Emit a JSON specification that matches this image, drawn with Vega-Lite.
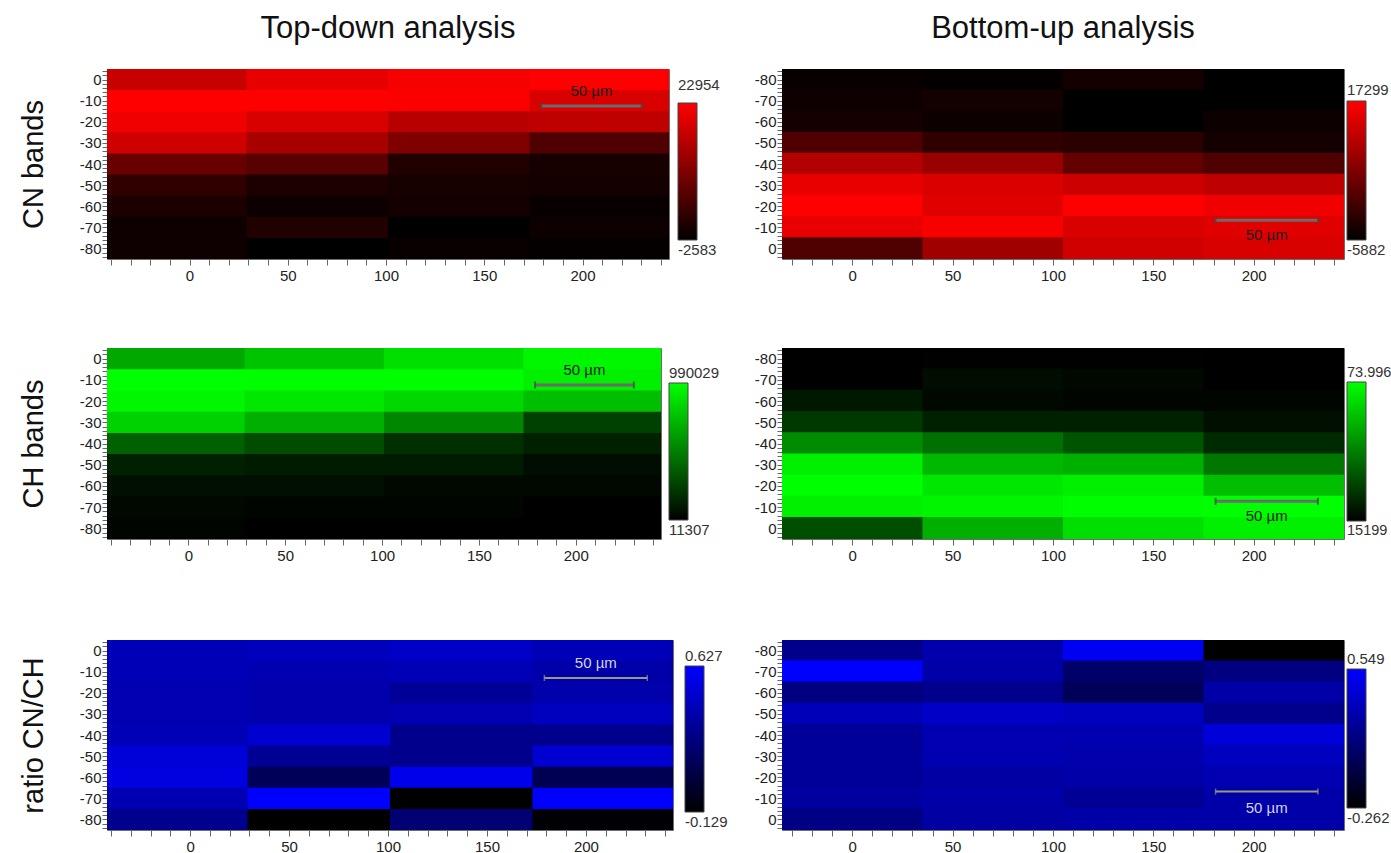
{
"$schema": "https://vega.github.io/schema/vega-lite/v6.json",
"padding": {"left": 18, "top": 12, "right": 0, "bottom": 0},
"background": "white",
"config": {"font": "Liberation Sans", "view": {"stroke": "#6e6e6e", "strokeWidth": 1},
  "axis": {"grid": false, "domain": false, "labelFontSize": 15, "labelColor": "#222", "tickColor": "#666", "labelOverlap": false, "labelBound": false, "labelFlush": false, "tickCount": 200}},
"datasets": {
"tl": [
{"x0":-42,"x1":29,"y0":5,"y1":-5,"v":17336},{"x0":29,"x1":101,"y0":5,"y1":-5,"v":20656},{"x0":101,"x1":173,"y0":5,"y1":-5,"v":22188},{"x0":173,"x1":244,"y0":5,"y1":-5,"v":22954},
{"x0":-42,"x1":29,"y0":-5,"y1":-15,"v":22954},{"x0":29,"x1":101,"y0":-5,"y1":-15,"v":22800},{"x0":101,"x1":173,"y0":-5,"y1":-15,"v":22699},{"x0":173,"x1":244,"y0":-5,"y1":-15,"v":19123},
{"x0":-42,"x1":29,"y0":-15,"y1":-25,"v":21422},{"x0":29,"x1":101,"y0":-15,"y1":-25,"v":19123},{"x0":101,"x1":173,"y0":-15,"y1":-25,"v":15804},{"x0":173,"x1":244,"y0":-15,"y1":-25,"v":16570},
{"x0":-42,"x1":29,"y0":-25,"y1":-35,"v":18357},{"x0":29,"x1":101,"y0":-25,"y1":-35,"v":14271},{"x0":101,"x1":173,"y0":-25,"y1":-35,"v":10186},{"x0":173,"x1":244,"y0":-25,"y1":-35,"v":5333},
{"x0":-42,"x1":29,"y0":-35,"y1":-45,"v":7887},{"x0":29,"x1":101,"y0":-35,"y1":-45,"v":6355},{"x0":101,"x1":173,"y0":-35,"y1":-45,"v":737},{"x0":173,"x1":244,"y0":-35,"y1":-45,"v":-285},
{"x0":-42,"x1":29,"y0":-45,"y1":-55,"v":2269},{"x0":29,"x1":101,"y0":-45,"y1":-55,"v":226},{"x0":101,"x1":173,"y0":-45,"y1":-55,"v":-285},{"x0":173,"x1":244,"y0":-45,"y1":-55,"v":-540},
{"x0":-42,"x1":29,"y0":-55,"y1":-65,"v":226},{"x0":29,"x1":101,"y0":-55,"y1":-65,"v":-1306},{"x0":101,"x1":173,"y0":-55,"y1":-65,"v":-540},{"x0":173,"x1":244,"y0":-55,"y1":-65,"v":-1817},
{"x0":-42,"x1":29,"y0":-65,"y1":-75,"v":-1051},{"x0":29,"x1":101,"y0":-65,"y1":-75,"v":737},{"x0":101,"x1":173,"y0":-65,"y1":-75,"v":-2583},{"x0":173,"x1":244,"y0":-65,"y1":-75,"v":-1306},
{"x0":-42,"x1":29,"y0":-75,"y1":-85,"v":-1051},{"x0":29,"x1":101,"y0":-75,"y1":-85,"v":-2583},{"x0":101,"x1":173,"y0":-75,"y1":-85,"v":-1817},{"x0":173,"x1":244,"y0":-75,"y1":-85,"v":-2072}
],
"tr": [
{"x0":-35,"x1":35,"y0":-75,"y1":-85,"v":-5187},{"x0":35,"x1":105,"y0":-75,"y1":-85,"v":-5418},{"x0":105,"x1":175,"y0":-75,"y1":-85,"v":-4028},{"x0":175,"x1":245,"y0":-75,"y1":-85,"v":-5882},
{"x0":-35,"x1":35,"y0":-65,"y1":-75,"v":-4491},{"x0":35,"x1":105,"y0":-65,"y1":-75,"v":-4028},{"x0":105,"x1":175,"y0":-65,"y1":-75,"v":-5882},{"x0":175,"x1":245,"y0":-65,"y1":-75,"v":-5800},
{"x0":-35,"x1":35,"y0":-55,"y1":-65,"v":-4028},{"x0":35,"x1":105,"y0":-55,"y1":-65,"v":-4723},{"x0":105,"x1":175,"y0":-55,"y1":-65,"v":-5882},{"x0":175,"x1":245,"y0":-55,"y1":-65,"v":-4723},
{"x0":-35,"x1":35,"y0":-45,"y1":-55,"v":1304},{"x0":35,"x1":105,"y0":-45,"y1":-55,"v":-1478},{"x0":105,"x1":175,"y0":-45,"y1":-55,"v":-1941},{"x0":175,"x1":245,"y0":-45,"y1":-55,"v":-4028},
{"x0":-35,"x1":35,"y0":-35,"y1":-45,"v":10345},{"x0":35,"x1":105,"y0":-35,"y1":-45,"v":8027},{"x0":105,"x1":175,"y0":-35,"y1":-45,"v":3159},{"x0":175,"x1":245,"y0":-35,"y1":-45,"v":1304},
{"x0":-35,"x1":35,"y0":-25,"y1":-35,"v":15213},{"x0":35,"x1":105,"y0":-25,"y1":-35,"v":14054},{"x0":105,"x1":175,"y0":-25,"y1":-35,"v":12663},{"x0":175,"x1":245,"y0":-25,"y1":-35,"v":11504},
{"x0":-35,"x1":35,"y0":-15,"y1":-25,"v":17299},{"x0":35,"x1":105,"y0":-15,"y1":-25,"v":14517},{"x0":105,"x1":175,"y0":-15,"y1":-25,"v":17200},{"x0":175,"x1":245,"y0":-15,"y1":-25,"v":15908},
{"x0":-35,"x1":35,"y0":-5,"y1":-15,"v":15213},{"x0":35,"x1":105,"y0":-5,"y1":-15,"v":16604},{"x0":105,"x1":175,"y0":-5,"y1":-15,"v":13822},{"x0":175,"x1":245,"y0":-5,"y1":-15,"v":14517},
{"x0":-35,"x1":35,"y0":5,"y1":-5,"v":1304},{"x0":35,"x1":105,"y0":5,"y1":-5,"v":8722},{"x0":105,"x1":175,"y0":5,"y1":-5,"v":13126},{"x0":175,"x1":245,"y0":5,"y1":-5,"v":13822}
],
"ml": [
{"x0":-42,"x1":29,"y0":5,"y1":-5,"v":657264},{"x0":29,"x1":101,"y0":5,"y1":-5,"v":764923},{"x0":101,"x1":173,"y0":5,"y1":-5,"v":872582},{"x0":173,"x1":244,"y0":5,"y1":-5,"v":960647},
{"x0":-42,"x1":29,"y0":-5,"y1":-15,"v":990029},{"x0":29,"x1":101,"y0":-5,"y1":-15,"v":985000},{"x0":101,"x1":173,"y0":-5,"y1":-15,"v":988000},{"x0":173,"x1":244,"y0":-5,"y1":-15,"v":931306},
{"x0":-42,"x1":29,"y0":-15,"y1":-25,"v":960647},{"x0":29,"x1":101,"y0":-15,"y1":-25,"v":901944},{"x0":101,"x1":173,"y0":-15,"y1":-25,"v":843221},{"x0":173,"x1":244,"y0":-15,"y1":-25,"v":745349},
{"x0":-42,"x1":29,"y0":-25,"y1":-35,"v":813859},{"x0":29,"x1":101,"y0":-25,"y1":-35,"v":686625},{"x0":101,"x1":173,"y0":-25,"y1":-35,"v":530030},{"x0":173,"x1":244,"y0":-25,"y1":-35,"v":255988},
{"x0":-42,"x1":29,"y0":-35,"y1":-45,"v":383221},{"x0":29,"x1":101,"y0":-35,"y1":-45,"v":304924},{"x0":101,"x1":173,"y0":-35,"y1":-45,"v":197264},{"x0":173,"x1":244,"y0":-35,"y1":-45,"v":138541},
{"x0":-42,"x1":29,"y0":-45,"y1":-55,"v":138541},{"x0":29,"x1":101,"y0":-45,"y1":-55,"v":118966},{"x0":101,"x1":173,"y0":-45,"y1":-55,"v":118966},{"x0":173,"x1":244,"y0":-45,"y1":-55,"v":60243},
{"x0":-42,"x1":29,"y0":-55,"y1":-65,"v":70030},{"x0":29,"x1":101,"y0":-55,"y1":-65,"v":70030},{"x0":101,"x1":173,"y0":-55,"y1":-65,"v":40669},{"x0":173,"x1":244,"y0":-55,"y1":-65,"v":40669},
{"x0":-42,"x1":29,"y0":-65,"y1":-75,"v":40669},{"x0":29,"x1":101,"y0":-65,"y1":-75,"v":30881},{"x0":101,"x1":173,"y0":-65,"y1":-75,"v":30881},{"x0":173,"x1":244,"y0":-65,"y1":-75,"v":11307},
{"x0":-42,"x1":29,"y0":-75,"y1":-85,"v":30881},{"x0":29,"x1":101,"y0":-75,"y1":-85,"v":11307},{"x0":101,"x1":173,"y0":-75,"y1":-85,"v":13000},{"x0":173,"x1":244,"y0":-75,"y1":-85,"v":11307}
],
"mr": [
{"x0":-35,"x1":35,"y0":-75,"y1":-85,"v":15199},{"x0":35,"x1":105,"y0":-75,"y1":-85,"v":15400},{"x0":105,"x1":175,"y0":-75,"y1":-85,"v":15400},{"x0":175,"x1":245,"y0":-75,"y1":-85,"v":15199},
{"x0":-35,"x1":35,"y0":-65,"y1":-75,"v":15199},{"x0":35,"x1":105,"y0":-65,"y1":-75,"v":18139},{"x0":105,"x1":175,"y0":-65,"y1":-75,"v":16963},{"x0":175,"x1":245,"y0":-65,"y1":-75,"v":15199},
{"x0":-35,"x1":35,"y0":-55,"y1":-65,"v":20491},{"x0":35,"x1":105,"y0":-55,"y1":-65,"v":16963},{"x0":105,"x1":175,"y0":-55,"y1":-65,"v":16375},{"x0":175,"x1":245,"y0":-55,"y1":-65,"v":16375},
{"x0":-35,"x1":35,"y0":-45,"y1":-55,"v":28134},{"x0":35,"x1":105,"y0":-45,"y1":-55,"v":22843},{"x0":105,"x1":175,"y0":-45,"y1":-55,"v":22843},{"x0":175,"x1":245,"y0":-45,"y1":-55,"v":18727},
{"x0":-35,"x1":35,"y0":-35,"y1":-45,"v":47537},{"x0":35,"x1":105,"y0":-35,"y1":-45,"v":41070},{"x0":105,"x1":175,"y0":-35,"y1":-45,"v":34602},{"x0":175,"x1":245,"y0":-35,"y1":-45,"v":25194},
{"x0":-35,"x1":35,"y0":-25,"y1":-35,"v":70468},{"x0":35,"x1":105,"y0":-25,"y1":-35,"v":57533},{"x0":105,"x1":175,"y0":-25,"y1":-35,"v":55769},{"x0":175,"x1":245,"y0":-25,"y1":-35,"v":42834},
{"x0":-35,"x1":35,"y0":-15,"y1":-25,"v":73996},{"x0":35,"x1":105,"y0":-15,"y1":-25,"v":68704},{"x0":105,"x1":175,"y0":-15,"y1":-25,"v":70468},{"x0":175,"x1":245,"y0":-15,"y1":-25,"v":59297},
{"x0":-35,"x1":35,"y0":-5,"y1":-15,"v":70468},{"x0":35,"x1":105,"y0":-5,"y1":-15,"v":71644},{"x0":105,"x1":175,"y0":-5,"y1":-15,"v":73800},{"x0":175,"x1":245,"y0":-5,"y1":-15,"v":73900},
{"x0":-35,"x1":35,"y0":5,"y1":-5,"v":33426},{"x0":35,"x1":105,"y0":5,"y1":-5,"v":55769},{"x0":105,"x1":175,"y0":5,"y1":-5,"v":66940},{"x0":175,"x1":245,"y0":5,"y1":-5,"v":70468}
],
"bl": [
{"x0":-42,"x1":29,"y0":5,"y1":-5,"v":0.415},{"x0":29,"x1":101,"y0":5,"y1":-5,"v":0.43},{"x0":101,"x1":173,"y0":5,"y1":-5,"v":0.461},{"x0":173,"x1":244,"y0":5,"y1":-5,"v":0.415},
{"x0":-42,"x1":29,"y0":-5,"y1":-15,"v":0.415},{"x0":29,"x1":101,"y0":-5,"y1":-15,"v":0.4},{"x0":101,"x1":173,"y0":-5,"y1":-15,"v":0.415},{"x0":173,"x1":244,"y0":-5,"y1":-15,"v":0.37},
{"x0":-42,"x1":29,"y0":-15,"y1":-25,"v":0.4},{"x0":29,"x1":101,"y0":-15,"y1":-25,"v":0.385},{"x0":101,"x1":173,"y0":-15,"y1":-25,"v":0.325},{"x0":173,"x1":244,"y0":-15,"y1":-25,"v":0.385},
{"x0":-42,"x1":29,"y0":-25,"y1":-35,"v":0.4},{"x0":29,"x1":101,"y0":-25,"y1":-35,"v":0.385},{"x0":101,"x1":173,"y0":-25,"y1":-35,"v":0.4},{"x0":173,"x1":244,"y0":-25,"y1":-35,"v":0.438},
{"x0":-42,"x1":29,"y0":-35,"y1":-45,"v":0.415},{"x0":29,"x1":101,"y0":-35,"y1":-45,"v":0.491},{"x0":101,"x1":173,"y0":-35,"y1":-45,"v":0.287},{"x0":173,"x1":244,"y0":-35,"y1":-45,"v":0.287},
{"x0":-42,"x1":29,"y0":-45,"y1":-55,"v":0.514},{"x0":29,"x1":101,"y0":-45,"y1":-55,"v":0.309},{"x0":101,"x1":173,"y0":-45,"y1":-55,"v":0.287},{"x0":173,"x1":244,"y0":-45,"y1":-55,"v":0.491},
{"x0":-42,"x1":29,"y0":-55,"y1":-65,"v":0.536},{"x0":29,"x1":101,"y0":-55,"y1":-65,"v":0.136},{"x0":101,"x1":173,"y0":-55,"y1":-65,"v":0.567},{"x0":173,"x1":244,"y0":-55,"y1":-65,"v":0.113},
{"x0":-42,"x1":29,"y0":-65,"y1":-75,"v":0.4},{"x0":29,"x1":101,"y0":-65,"y1":-75,"v":0.627},{"x0":101,"x1":173,"y0":-65,"y1":-75,"v":-0.129},{"x0":173,"x1":244,"y0":-65,"y1":-75,"v":0.627},
{"x0":-42,"x1":29,"y0":-75,"y1":-85,"v":0.287},{"x0":29,"x1":101,"y0":-75,"y1":-85,"v":-0.129},{"x0":101,"x1":173,"y0":-75,"y1":-85,"v":0.211},{"x0":173,"x1":244,"y0":-75,"y1":-85,"v":-0.114}
],
"br": [
{"x0":-35,"x1":35,"y0":-75,"y1":-85,"v":0.184},{"x0":35,"x1":105,"y0":-75,"y1":-85,"v":0.289},{"x0":105,"x1":175,"y0":-75,"y1":-85,"v":0.508},{"x0":175,"x1":245,"y0":-75,"y1":-85,"v":-0.262},
{"x0":-35,"x1":35,"y0":-65,"y1":-75,"v":0.549},{"x0":35,"x1":105,"y0":-65,"y1":-75,"v":0.273},{"x0":105,"x1":175,"y0":-65,"y1":-75,"v":0.079},{"x0":175,"x1":245,"y0":-65,"y1":-75,"v":0.144},
{"x0":-35,"x1":35,"y0":-55,"y1":-65,"v":0.144},{"x0":35,"x1":105,"y0":-55,"y1":-65,"v":0.184},{"x0":105,"x1":175,"y0":-55,"y1":-65,"v":0.022},{"x0":175,"x1":245,"y0":-55,"y1":-65,"v":0.265},
{"x0":-35,"x1":35,"y0":-45,"y1":-55,"v":0.322},{"x0":35,"x1":105,"y0":-45,"y1":-55,"v":0.371},{"x0":105,"x1":175,"y0":-45,"y1":-55,"v":0.346},{"x0":175,"x1":245,"y0":-45,"y1":-55,"v":0.184},
{"x0":-35,"x1":35,"y0":-35,"y1":-45,"v":0.225},{"x0":35,"x1":105,"y0":-35,"y1":-45,"v":0.306},{"x0":105,"x1":175,"y0":-35,"y1":-45,"v":0.306},{"x0":175,"x1":245,"y0":-35,"y1":-45,"v":0.427},
{"x0":-35,"x1":35,"y0":-25,"y1":-35,"v":0.225},{"x0":35,"x1":105,"y0":-25,"y1":-35,"v":0.306},{"x0":105,"x1":175,"y0":-25,"y1":-35,"v":0.289},{"x0":175,"x1":245,"y0":-25,"y1":-35,"v":0.346},
{"x0":-35,"x1":35,"y0":-15,"y1":-25,"v":0.225},{"x0":35,"x1":105,"y0":-15,"y1":-25,"v":0.257},{"x0":105,"x1":175,"y0":-15,"y1":-25,"v":0.273},{"x0":175,"x1":245,"y0":-15,"y1":-25,"v":0.306},
{"x0":-35,"x1":35,"y0":-5,"y1":-15,"v":0.241},{"x0":35,"x1":105,"y0":-5,"y1":-15,"v":0.273},{"x0":105,"x1":175,"y0":-5,"y1":-15,"v":0.208},{"x0":175,"x1":245,"y0":-5,"y1":-15,"v":0.273},
{"x0":-35,"x1":35,"y0":5,"y1":-5,"v":0.16},{"x0":35,"x1":105,"y0":5,"y1":-5,"v":0.257},{"x0":105,"x1":175,"y0":5,"y1":-5,"v":0.273},{"x0":175,"x1":245,"y0":5,"y1":-5,"v":0.273}
],
"bars": [
{"p":"TL","x0":179,"x1":230,"y0":-12.5,"xm":204.5,"ty":-5.5},
{"p":"TR","x0":181,"x1":232,"y0":-13.3,"xm":206.5,"ty":-6.3},
{"p":"ML","x0":179,"x1":230,"y0":-12.4,"xm":204.5,"ty":-5.2},
{"p":"MR","x0":181,"x1":232,"y0":-12.8,"xm":206.5,"ty":-5.9},
{"p":"BL","x0":179,"x1":231,"y0":-13,"xm":205,"ty":-6},
{"p":"BR","x0":181,"x1":232,"y0":-13.2,"xm":206.5,"ty":-5.5}
]
},
"resolve": {"scale": {"color": "independent"}, "legend": {"color": "independent"}},
"spacing": 70,
"vconcat": [
{"resolve": {"scale": {"color": "independent"}, "legend": {"color": "independent"}},
 "spacing": 58,
 "vconcat": [
 {"resolve": {"scale": {"color": "independent"}, "legend": {"color": "independent"}},
  "spacing": 32,
  "hconcat": [
  {"width": 562, "height": 190,
   "title": {"text": "Top-down analysis", "fontSize": 31, "fontWeight": "normal", "offset": 19, "frame": "group", "color": "#111"},
   "layer": [
    {"data": {"name": "tl"}, "mark": {"type": "rect", "clip": true, "x2Offset": 0.7, "y2Offset": 0.7},
     "encoding": {
      "x": {"field": "x0", "type": "quantitative", "title": null, "scale": {"domain": [-42, 244], "nice": false, "zero": false},
        "axis": {"values": [-40,-30,-20,-10,0,10,20,30,40,50,60,70,80,90,100,110,120,130,140,150,160,170,180,190,200,210,220,230,240], "tickCount": 200, "labelOverlap": false, "tickSize": 6, "labelPadding": 3, "labelExpr": "datum.value % 50 === 0 ? '' + datum.value : ''", "encode": {"ticks": {"update": {"y2": {"signal": "datum.value % 50 === 0 ? 6 : 3"}}}, "labels": {"update": {"fontSize": {"signal": "datum.value % 50 === 0 ? 15 : 0"}}}}}},
      "x2": {"field": "x1"},
      "y": {"field": "y0", "type": "quantitative", "title": "CN bands", "scale": {"domain": [-85, 5], "nice": false, "zero": false},
        "axis": {"values": [-84,-82,-80,-78,-76,-74,-72,-70,-68,-66,-64,-62,-60,-58,-56,-54,-52,-50,-48,-46,-44,-42,-40,-38,-36,-34,-32,-30,-28,-26,-24,-22,-20,-18,-16,-14,-12,-10,-8,-6,-4,-2,0,2,4], "tickCount": 200, "labelOverlap": false, "tickSize": 5, "labelPadding": 1, "titlePadding": 31, "titleFontSize": 29, "titleFontWeight": "normal", "titleColor": "#111", "labelExpr": "datum.value % 10 === 0 ? '' + datum.value : ''", "encode": {"ticks": {"update": {"x2": {"signal": "datum.value % 10 === 0 ? -5 : -2.5"}}}, "labels": {"update": {"fontSize": {"signal": "datum.value % 10 === 0 ? 15 : 0"}}}}}},
      "y2": {"field": "y1"},
      "color": {"field": "v", "type": "quantitative", "scale": {"domain": [-2583, 22954], "range": ["#000000", "#ff0000"], "interpolate": "rgb"},
        "legend": {"type": "gradient", "orient": "none", "direction": "vertical", "legendX": 571, "legendY": 34, "padding": 0, "title": null, "values": [-2583, 22954], "gradientLength": 137, "gradientThickness": 19, "gradientStrokeColor": "#444", "gradientStrokeWidth": 1, "labelFontSize": 15, "labelColor": "#333", "labelOffset": -19, "labelExpr": "'' + datum.value",
          "encode": {"labels": {"update": {"baseline": {"signal": "datum.perc > 0.5 ? 'alphabetic' : 'top'"}, "dy": {"signal": "datum.perc > 0.5 ? -13 : 3"}}}}}}
     }},
    {"data": {"name": "bars"}, "transform": [{"filter": "datum.p == 'TL'"}], "mark": {"type": "rule", "color": "#6b6b6b", "strokeWidth": 3},
     "encoding": {"x": {"field": "x0", "type": "quantitative", "title": null}, "x2": {"field": "x1"}, "y": {"field": "y0", "type": "quantitative", "title": "CN bands"}}},
    {"data": {"name": "bars"}, "transform": [{"filter": "datum.p == 'TL'"}, {"fold": ["x0", "x1"], "as": ["k", "xe"]}], "mark": {"type": "tick", "orient": "vertical", "color": "#444", "size": 7, "thickness": 2},
     "encoding": {"x": {"field": "xe", "type": "quantitative", "title": null}, "y": {"field": "y0", "type": "quantitative", "title": "CN bands"}}},
    {"data": {"name": "bars"}, "transform": [{"filter": "datum.p == 'TL'"}], "mark": {"type": "text", "fontSize": 15, "color": "#1a1a1a"},
     "encoding": {"x": {"field": "xm", "type": "quantitative", "title": null}, "y": {"field": "ty", "type": "quantitative", "title": "CN bands"}, "text": {"value": "50 µm"}}}
   ]},
  {"width": 562, "height": 190,
   "title": {"text": "Bottom-up analysis", "fontSize": 31, "fontWeight": "normal", "offset": 19, "frame": "group", "color": "#111"},
   "layer": [
    {"data": {"name": "tr"}, "mark": {"type": "rect", "clip": true, "x2Offset": 0.7, "y2Offset": -0.7},
     "encoding": {
      "x": {"field": "x0", "type": "quantitative", "title": null, "scale": {"domain": [-35, 245], "nice": false, "zero": false},
        "axis": {"values": [-30,-20,-10,0,10,20,30,40,50,60,70,80,90,100,110,120,130,140,150,160,170,180,190,200,210,220,230,240], "tickCount": 200, "labelOverlap": false, "tickSize": 6, "labelPadding": 3, "labelExpr": "datum.value % 50 === 0 ? '' + datum.value : ''", "encode": {"ticks": {"update": {"y2": {"signal": "datum.value % 50 === 0 ? 6 : 3"}}}, "labels": {"update": {"fontSize": {"signal": "datum.value % 50 === 0 ? 15 : 0"}}}}}},
      "x2": {"field": "x1"},
      "y": {"field": "y0", "type": "quantitative", "title": null, "scale": {"domain": [-85, 5], "nice": false, "zero": false, "reverse": true},
        "axis": {"values": [-84,-82,-80,-78,-76,-74,-72,-70,-68,-66,-64,-62,-60,-58,-56,-54,-52,-50,-48,-46,-44,-42,-40,-38,-36,-34,-32,-30,-28,-26,-24,-22,-20,-18,-16,-14,-12,-10,-8,-6,-4,-2,0,2,4], "tickCount": 200, "labelOverlap": false, "tickSize": 5, "labelPadding": 1, "labelExpr": "datum.value % 10 === 0 ? '' + datum.value : ''", "encode": {"ticks": {"update": {"x2": {"signal": "datum.value % 10 === 0 ? -5 : -2.5"}}}, "labels": {"update": {"fontSize": {"signal": "datum.value % 10 === 0 ? 15 : 0"}}}}}},
      "y2": {"field": "y1"},
      "color": {"field": "v", "type": "quantitative", "scale": {"domain": [-5882, 17299], "range": ["#000000", "#ff0000"], "interpolate": "rgb"},
        "legend": {"type": "gradient", "orient": "none", "direction": "vertical", "legendX": 565, "legendY": 32, "padding": 0, "title": null, "values": [-5882, 17299], "gradientLength": 139, "gradientThickness": 19, "gradientStrokeColor": "#444", "gradientStrokeWidth": 1, "labelFontSize": 15, "labelColor": "#333", "labelOffset": -19, "labelExpr": "'' + datum.value",
          "encode": {"labels": {"update": {"baseline": {"signal": "datum.perc > 0.5 ? 'alphabetic' : 'top'"}, "dy": {"signal": "datum.perc > 0.5 ? -6 : 3"}}}}}}
     }},
    {"data": {"name": "bars"}, "transform": [{"filter": "datum.p == 'TR'"}], "mark": {"type": "rule", "color": "#6b6b6b", "strokeWidth": 3},
     "encoding": {"x": {"field": "x0", "type": "quantitative", "title": null}, "x2": {"field": "x1"}, "y": {"field": "y0", "type": "quantitative", "title": null}}},
    {"data": {"name": "bars"}, "transform": [{"filter": "datum.p == 'TR'"}, {"fold": ["x0", "x1"], "as": ["k", "xe"]}], "mark": {"type": "tick", "orient": "vertical", "color": "#444", "size": 7, "thickness": 2},
     "encoding": {"x": {"field": "xe", "type": "quantitative", "title": null}, "y": {"field": "y0", "type": "quantitative", "title": null}}},
    {"data": {"name": "bars"}, "transform": [{"filter": "datum.p == 'TR'"}], "mark": {"type": "text", "fontSize": 15, "color": "#1a1a1a"},
     "encoding": {"x": {"field": "xm", "type": "quantitative", "title": null}, "y": {"field": "ty", "type": "quantitative", "title": null}, "text": {"value": "50 µm"}}}
   ]}
  ]},
 {"resolve": {"scale": {"color": "independent"}, "legend": {"color": "independent"}},
  "spacing": 32,
  "hconcat": [
  {"width": 554, "height": 191,
   "layer": [
    {"data": {"name": "ml"}, "mark": {"type": "rect", "clip": true, "x2Offset": 0.7, "y2Offset": 0.7},
     "encoding": {
      "x": {"field": "x0", "type": "quantitative", "title": null, "scale": {"domain": [-42, 244], "nice": false, "zero": false},
        "axis": {"values": [-40,-30,-20,-10,0,10,20,30,40,50,60,70,80,90,100,110,120,130,140,150,160,170,180,190,200,210,220,230,240], "tickCount": 200, "labelOverlap": false, "tickSize": 6, "labelPadding": 3, "labelExpr": "datum.value % 50 === 0 ? '' + datum.value : ''", "encode": {"ticks": {"update": {"y2": {"signal": "datum.value % 50 === 0 ? 6 : 3"}}}, "labels": {"update": {"fontSize": {"signal": "datum.value % 50 === 0 ? 15 : 0"}}}}}},
      "x2": {"field": "x1"},
      "y": {"field": "y0", "type": "quantitative", "title": "CH bands", "scale": {"domain": [-85, 5], "nice": false, "zero": false},
        "axis": {"values": [-84,-82,-80,-78,-76,-74,-72,-70,-68,-66,-64,-62,-60,-58,-56,-54,-52,-50,-48,-46,-44,-42,-40,-38,-36,-34,-32,-30,-28,-26,-24,-22,-20,-18,-16,-14,-12,-10,-8,-6,-4,-2,0,2,4], "tickCount": 200, "labelOverlap": false, "tickSize": 5, "labelPadding": 1, "titlePadding": 31, "titleFontSize": 29, "titleFontWeight": "normal", "titleColor": "#111", "labelExpr": "datum.value % 10 === 0 ? '' + datum.value : ''", "encode": {"ticks": {"update": {"x2": {"signal": "datum.value % 10 === 0 ? -5 : -2.5"}}}, "labels": {"update": {"fontSize": {"signal": "datum.value % 10 === 0 ? 15 : 0"}}}}}},
      "y2": {"field": "y1"},
      "color": {"field": "v", "type": "quantitative", "scale": {"domain": [11307, 990029], "range": ["#000000", "#00ff00"], "interpolate": "rgb"},
        "legend": {"type": "gradient", "orient": "none", "direction": "vertical", "legendX": 562, "legendY": 35, "padding": 0, "title": null, "values": [11307, 990029], "gradientLength": 137, "gradientThickness": 19, "gradientStrokeColor": "#444", "gradientStrokeWidth": 1, "labelFontSize": 15, "labelColor": "#333", "labelOffset": -19, "labelExpr": "'' + datum.value",
          "encode": {"labels": {"update": {"baseline": {"signal": "datum.perc > 0.5 ? 'alphabetic' : 'top'"}, "dy": {"signal": "datum.perc > 0.5 ? -5 : 3"}}}}}}
     }},
    {"data": {"name": "bars"}, "transform": [{"filter": "datum.p == 'ML'"}], "mark": {"type": "rule", "color": "#6b6b6b", "strokeWidth": 3},
     "encoding": {"x": {"field": "x0", "type": "quantitative", "title": null}, "x2": {"field": "x1"}, "y": {"field": "y0", "type": "quantitative", "title": "CH bands"}}},
    {"data": {"name": "bars"}, "transform": [{"filter": "datum.p == 'ML'"}, {"fold": ["x0", "x1"], "as": ["k", "xe"]}], "mark": {"type": "tick", "orient": "vertical", "color": "#444", "size": 7, "thickness": 2},
     "encoding": {"x": {"field": "xe", "type": "quantitative", "title": null}, "y": {"field": "y0", "type": "quantitative", "title": "CH bands"}}},
    {"data": {"name": "bars"}, "transform": [{"filter": "datum.p == 'ML'"}], "mark": {"type": "text", "fontSize": 15, "color": "#1a1a1a"},
     "encoding": {"x": {"field": "xm", "type": "quantitative", "title": null}, "y": {"field": "ty", "type": "quantitative", "title": "CH bands"}, "text": {"value": "50 µm"}}}
   ]},
  {"width": 562, "height": 191,
   "layer": [
    {"data": {"name": "mr"}, "mark": {"type": "rect", "clip": true, "x2Offset": 0.7, "y2Offset": -0.7},
     "encoding": {
      "x": {"field": "x0", "type": "quantitative", "title": null, "scale": {"domain": [-35, 245], "nice": false, "zero": false},
        "axis": {"values": [-30,-20,-10,0,10,20,30,40,50,60,70,80,90,100,110,120,130,140,150,160,170,180,190,200,210,220,230,240], "tickCount": 200, "labelOverlap": false, "tickSize": 6, "labelPadding": 3, "labelExpr": "datum.value % 50 === 0 ? '' + datum.value : ''", "encode": {"ticks": {"update": {"y2": {"signal": "datum.value % 50 === 0 ? 6 : 3"}}}, "labels": {"update": {"fontSize": {"signal": "datum.value % 50 === 0 ? 15 : 0"}}}}}},
      "x2": {"field": "x1"},
      "y": {"field": "y0", "type": "quantitative", "title": null, "scale": {"domain": [-85, 5], "nice": false, "zero": false, "reverse": true},
        "axis": {"values": [-84,-82,-80,-78,-76,-74,-72,-70,-68,-66,-64,-62,-60,-58,-56,-54,-52,-50,-48,-46,-44,-42,-40,-38,-36,-34,-32,-30,-28,-26,-24,-22,-20,-18,-16,-14,-12,-10,-8,-6,-4,-2,0,2,4], "tickCount": 200, "labelOverlap": false, "tickSize": 5, "labelPadding": 1, "labelExpr": "datum.value % 10 === 0 ? '' + datum.value : ''", "encode": {"ticks": {"update": {"x2": {"signal": "datum.value % 10 === 0 ? -5 : -2.5"}}}, "labels": {"update": {"fontSize": {"signal": "datum.value % 10 === 0 ? 15 : 0"}}}}}},
      "y2": {"field": "y1"},
      "color": {"field": "v", "type": "quantitative", "scale": {"domain": [15199, 73996], "range": ["#000000", "#00ff00"], "interpolate": "rgb"},
        "legend": {"type": "gradient", "orient": "none", "direction": "vertical", "legendX": 565, "legendY": 34, "padding": 0, "title": null, "values": [15199, 73996], "gradientLength": 139, "gradientThickness": 19, "gradientStrokeColor": "#444", "gradientStrokeWidth": 1, "labelFontSize": 14.5, "labelColor": "#333", "labelOffset": -19, "labelExpr": "datum.value === 73996 ? '73.996' : '' + datum.value",
          "encode": {"labels": {"update": {"baseline": {"signal": "datum.perc > 0.5 ? 'alphabetic' : 'top'"}, "dy": {"signal": "datum.perc > 0.5 ? -5 : 3"}}}}}}
     }},
    {"data": {"name": "bars"}, "transform": [{"filter": "datum.p == 'MR'"}], "mark": {"type": "rule", "color": "#6b6b6b", "strokeWidth": 3},
     "encoding": {"x": {"field": "x0", "type": "quantitative", "title": null}, "x2": {"field": "x1"}, "y": {"field": "y0", "type": "quantitative", "title": null}}},
    {"data": {"name": "bars"}, "transform": [{"filter": "datum.p == 'MR'"}, {"fold": ["x0", "x1"], "as": ["k", "xe"]}], "mark": {"type": "tick", "orient": "vertical", "color": "#444", "size": 7, "thickness": 2},
     "encoding": {"x": {"field": "xe", "type": "quantitative", "title": null}, "y": {"field": "y0", "type": "quantitative", "title": null}}},
    {"data": {"name": "bars"}, "transform": [{"filter": "datum.p == 'MR'"}], "mark": {"type": "text", "fontSize": 15, "color": "#1a1a1a"},
     "encoding": {"x": {"field": "xm", "type": "quantitative", "title": null}, "y": {"field": "ty", "type": "quantitative", "title": null}, "text": {"value": "50 µm"}}}
   ]}
  ]}
 ]},
{"resolve": {"scale": {"color": "independent"}, "legend": {"color": "independent"}},
 "spacing": 24,
 "hconcat": [
  {"width": 566, "height": 190,
   "layer": [
    {"data": {"name": "bl"}, "mark": {"type": "rect", "clip": true, "x2Offset": 0.7, "y2Offset": 0.7},
     "encoding": {
      "x": {"field": "x0", "type": "quantitative", "title": null, "scale": {"domain": [-42, 244], "nice": false, "zero": false},
        "axis": {"values": [-40,-30,-20,-10,0,10,20,30,40,50,60,70,80,90,100,110,120,130,140,150,160,170,180,190,200,210,220,230,240], "tickCount": 200, "labelOverlap": false, "tickSize": 6, "labelPadding": 3, "labelExpr": "datum.value % 50 === 0 ? '' + datum.value : ''", "encode": {"ticks": {"update": {"y2": {"signal": "datum.value % 50 === 0 ? 6 : 3"}}}, "labels": {"update": {"fontSize": {"signal": "datum.value % 50 === 0 ? 15 : 0"}}}}}},
      "x2": {"field": "x1"},
      "y": {"field": "y0", "type": "quantitative", "title": "ratio CN/CH", "scale": {"domain": [-85, 5], "nice": false, "zero": false},
        "axis": {"values": [-84,-82,-80,-78,-76,-74,-72,-70,-68,-66,-64,-62,-60,-58,-56,-54,-52,-50,-48,-46,-44,-42,-40,-38,-36,-34,-32,-30,-28,-26,-24,-22,-20,-18,-16,-14,-12,-10,-8,-6,-4,-2,0,2,4], "tickCount": 200, "labelOverlap": false, "tickSize": 5, "labelPadding": 1, "titlePadding": 31, "titleFontSize": 29, "titleFontWeight": "normal", "titleColor": "#111", "labelExpr": "datum.value % 10 === 0 ? '' + datum.value : ''", "encode": {"ticks": {"update": {"x2": {"signal": "datum.value % 10 === 0 ? -5 : -2.5"}}}, "labels": {"update": {"fontSize": {"signal": "datum.value % 10 === 0 ? 15 : 0"}}}}}},
      "y2": {"field": "y1"},
      "color": {"field": "v", "type": "quantitative", "scale": {"domain": [-0.129, 0.627], "range": ["#000000", "#0000ff"], "interpolate": "rgb"},
        "legend": {"type": "gradient", "orient": "none", "direction": "vertical", "legendX": 578, "legendY": 26, "padding": 0, "title": null, "values": [-0.129, 0.627], "gradientLength": 146, "gradientThickness": 19, "gradientStrokeColor": "#444", "gradientStrokeWidth": 1, "labelFontSize": 15, "labelColor": "#333", "labelOffset": -19, "labelExpr": "'' + datum.value",
          "encode": {"labels": {"update": {"baseline": {"signal": "datum.perc > 0.5 ? 'alphabetic' : 'top'"}, "dy": {"signal": "datum.perc > 0.5 ? -5 : 3"}}}}}}
     }},
    {"data": {"name": "bars"}, "transform": [{"filter": "datum.p == 'BL'"}], "mark": {"type": "rule", "color": "#9a9a7c", "strokeWidth": 2},
     "encoding": {"x": {"field": "x0", "type": "quantitative", "title": null}, "x2": {"field": "x1"}, "y": {"field": "y0", "type": "quantitative", "title": "ratio CN/CH"}}},
    {"data": {"name": "bars"}, "transform": [{"filter": "datum.p == 'BL'"}, {"fold": ["x0", "x1"], "as": ["k", "xe"]}], "mark": {"type": "tick", "orient": "vertical", "color": "#9a9a7c", "size": 6, "thickness": 1.5},
     "encoding": {"x": {"field": "xe", "type": "quantitative", "title": null}, "y": {"field": "y0", "type": "quantitative", "title": "ratio CN/CH"}}},
    {"data": {"name": "bars"}, "transform": [{"filter": "datum.p == 'BL'"}], "mark": {"type": "text", "fontSize": 15, "color": "#d4d4e4"},
     "encoding": {"x": {"field": "xm", "type": "quantitative", "title": null}, "y": {"field": "ty", "type": "quantitative", "title": "ratio CN/CH"}, "text": {"value": "50 µm"}}}
   ]},
  {"width": 562, "height": 190,
   "layer": [
    {"data": {"name": "br"}, "mark": {"type": "rect", "clip": true, "x2Offset": 0.7, "y2Offset": -0.7},
     "encoding": {
      "x": {"field": "x0", "type": "quantitative", "title": null, "scale": {"domain": [-35, 245], "nice": false, "zero": false},
        "axis": {"values": [-30,-20,-10,0,10,20,30,40,50,60,70,80,90,100,110,120,130,140,150,160,170,180,190,200,210,220,230,240], "tickCount": 200, "labelOverlap": false, "tickSize": 6, "labelPadding": 3, "labelExpr": "datum.value % 50 === 0 ? '' + datum.value : ''", "encode": {"ticks": {"update": {"y2": {"signal": "datum.value % 50 === 0 ? 6 : 3"}}}, "labels": {"update": {"fontSize": {"signal": "datum.value % 50 === 0 ? 15 : 0"}}}}}},
      "x2": {"field": "x1"},
      "y": {"field": "y0", "type": "quantitative", "title": null, "scale": {"domain": [-85, 5], "nice": false, "zero": false, "reverse": true},
        "axis": {"values": [-84,-82,-80,-78,-76,-74,-72,-70,-68,-66,-64,-62,-60,-58,-56,-54,-52,-50,-48,-46,-44,-42,-40,-38,-36,-34,-32,-30,-28,-26,-24,-22,-20,-18,-16,-14,-12,-10,-8,-6,-4,-2,0,2,4], "tickCount": 200, "labelOverlap": false, "tickSize": 5, "labelPadding": 1, "labelExpr": "datum.value % 10 === 0 ? '' + datum.value : ''", "encode": {"ticks": {"update": {"x2": {"signal": "datum.value % 10 === 0 ? -5 : -2.5"}}}, "labels": {"update": {"fontSize": {"signal": "datum.value % 10 === 0 ? 15 : 0"}}}}}},
      "y2": {"field": "y1"},
      "color": {"field": "v", "type": "quantitative", "scale": {"domain": [-0.262, 0.549], "range": ["#000000", "#0000ff"], "interpolate": "rgb"},
        "legend": {"type": "gradient", "orient": "none", "direction": "vertical", "legendX": 565, "legendY": 29, "padding": 0, "title": null, "values": [-0.262, 0.549], "gradientLength": 139, "gradientThickness": 19, "gradientStrokeColor": "#444", "gradientStrokeWidth": 1, "labelFontSize": 15, "labelColor": "#333", "labelOffset": -19, "labelExpr": "'' + datum.value",
          "encode": {"labels": {"update": {"baseline": {"signal": "datum.perc > 0.5 ? 'alphabetic' : 'top'"}, "dy": {"signal": "datum.perc > 0.5 ? -5 : 3"}}}}}}
     }},
    {"data": {"name": "bars"}, "transform": [{"filter": "datum.p == 'BR'"}], "mark": {"type": "rule", "color": "#9a9a7c", "strokeWidth": 2},
     "encoding": {"x": {"field": "x0", "type": "quantitative", "title": null}, "x2": {"field": "x1"}, "y": {"field": "y0", "type": "quantitative", "title": null}}},
    {"data": {"name": "bars"}, "transform": [{"filter": "datum.p == 'BR'"}, {"fold": ["x0", "x1"], "as": ["k", "xe"]}], "mark": {"type": "tick", "orient": "vertical", "color": "#9a9a7c", "size": 6, "thickness": 1.5},
     "encoding": {"x": {"field": "xe", "type": "quantitative", "title": null}, "y": {"field": "y0", "type": "quantitative", "title": null}}},
    {"data": {"name": "bars"}, "transform": [{"filter": "datum.p == 'BR'"}], "mark": {"type": "text", "fontSize": 15, "color": "#d4d4e4"},
     "encoding": {"x": {"field": "xm", "type": "quantitative", "title": null}, "y": {"field": "ty", "type": "quantitative", "title": null}, "text": {"value": "50 µm"}}}
   ]}
 ]}
]
}
